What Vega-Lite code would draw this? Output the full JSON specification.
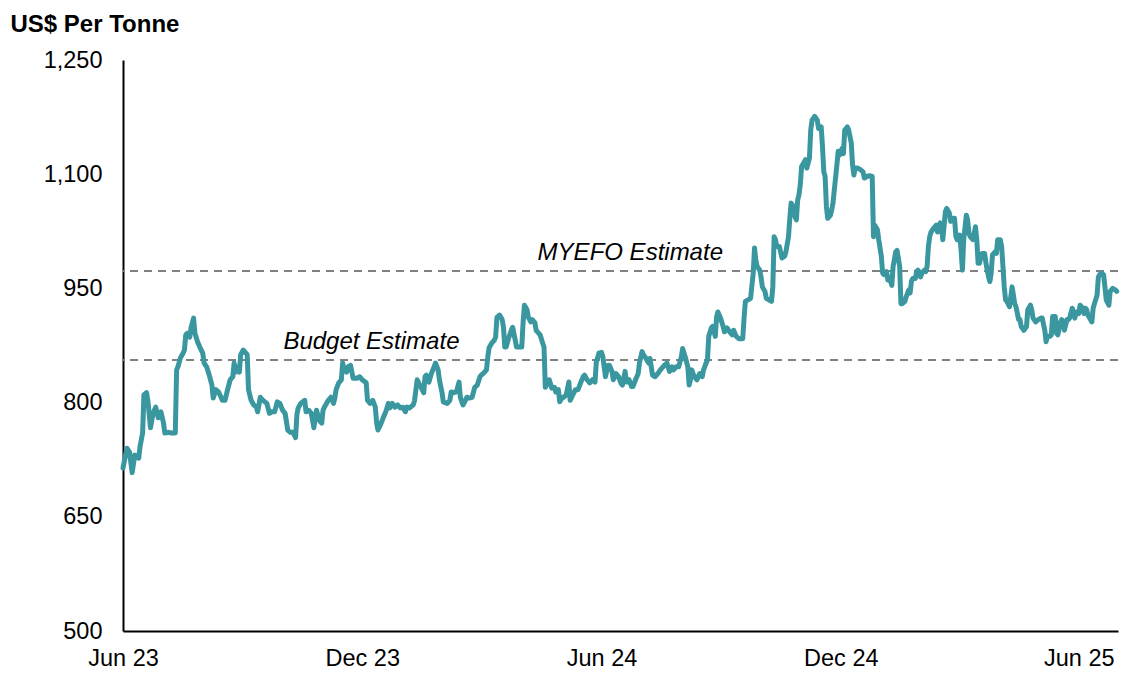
{
  "$schema": "https://vega.github.io/schema/vega-lite/v6.json",
  "width": 995,
  "height": 571,
  "autosize": "none",
  "padding": {"left": 123, "top": 60, "right": 4, "bottom": 42},
  "background": "white",
  "config": {"view": {"stroke": null}, "font": "Liberation Sans"},
  "datasets": {
    "estimates": [
      {"name": "Budget Estimate", "value": 856, "labelDate": "2023-12-08"},
      {"name": "MYEFO Estimate", "value": 973, "labelDate": "2024-06-23"}
    ],
    "prices": [
      {"date":"2023-06-01","price":714},{"date":"2023-06-04","price":740},{"date":"2023-06-06","price":735},{"date":"2023-06-08","price":708},{"date":"2023-06-10","price":731},{"date":"2023-06-13","price":727},{"date":"2023-06-14","price":742},{"date":"2023-06-16","price":760},{"date":"2023-06-17","price":810},{"date":"2023-06-19","price":813},{"date":"2023-06-20","price":803},{"date":"2023-06-22","price":767},{"date":"2023-06-24","price":786},{"date":"2023-06-26","price":794},{"date":"2023-06-28","price":780},{"date":"2023-06-30","price":788},{"date":"2023-07-02","price":773},{"date":"2023-07-03","price":760},{"date":"2023-07-06","price":761},{"date":"2023-07-08","price":760},{"date":"2023-07-11","price":760},{"date":"2023-07-12","price":843},{"date":"2023-07-13","price":847},{"date":"2023-07-15","price":859},{"date":"2023-07-17","price":865},{"date":"2023-07-18","price":869},{"date":"2023-07-19","price":889},{"date":"2023-07-20","price":891},{"date":"2023-07-22","price":886},{"date":"2023-07-23","price":898},{"date":"2023-07-25","price":911},{"date":"2023-07-26","price":891},{"date":"2023-07-28","price":880},{"date":"2023-07-30","price":872},{"date":"2023-08-01","price":865},{"date":"2023-08-02","price":852},{"date":"2023-08-04","price":847},{"date":"2023-08-06","price":836},{"date":"2023-08-08","price":823},{"date":"2023-08-09","price":806},{"date":"2023-08-11","price":817},{"date":"2023-08-13","price":814},{"date":"2023-08-15","price":807},{"date":"2023-08-16","price":803},{"date":"2023-08-18","price":803},{"date":"2023-08-20","price":817},{"date":"2023-08-22","price":830},{"date":"2023-08-24","price":834},{"date":"2023-08-25","price":852},{"date":"2023-08-26","price":840},{"date":"2023-08-28","price":847},{"date":"2023-08-29","price":840},{"date":"2023-08-30","price":863},{"date":"2023-09-01","price":869},{"date":"2023-09-04","price":863},{"date":"2023-09-05","price":817},{"date":"2023-09-07","price":803},{"date":"2023-09-09","price":797},{"date":"2023-09-11","price":794},{"date":"2023-09-12","price":788},{"date":"2023-09-14","price":807},{"date":"2023-09-16","price":803},{"date":"2023-09-19","price":799},{"date":"2023-09-21","price":786},{"date":"2023-09-23","price":788},{"date":"2023-09-25","price":788},{"date":"2023-09-27","price":801},{"date":"2023-09-29","price":799},{"date":"2023-10-01","price":790},{"date":"2023-10-03","price":786},{"date":"2023-10-05","price":764},{"date":"2023-10-07","price":761},{"date":"2023-10-09","price":761},{"date":"2023-10-11","price":754},{"date":"2023-10-12","price":784},{"date":"2023-10-13","price":793},{"date":"2023-10-15","price":799},{"date":"2023-10-18","price":803},{"date":"2023-10-19","price":788},{"date":"2023-10-21","price":790},{"date":"2023-10-23","price":786},{"date":"2023-10-25","price":767},{"date":"2023-10-26","price":780},{"date":"2023-10-27","price":790},{"date":"2023-10-29","price":777},{"date":"2023-10-31","price":773},{"date":"2023-11-01","price":790},{"date":"2023-11-02","price":794},{"date":"2023-11-05","price":803},{"date":"2023-11-07","price":807},{"date":"2023-11-09","price":799},{"date":"2023-11-10","price":806},{"date":"2023-11-11","price":817},{"date":"2023-11-13","price":826},{"date":"2023-11-15","price":830},{"date":"2023-11-16","price":852},{"date":"2023-11-17","price":843},{"date":"2023-11-19","price":840},{"date":"2023-11-20","price":847},{"date":"2023-11-22","price":849},{"date":"2023-11-24","price":832},{"date":"2023-11-27","price":832},{"date":"2023-11-29","price":834},{"date":"2023-12-01","price":830},
      {"date":"2023-12-04","price":826},{"date":"2023-12-05","price":803},{"date":"2023-12-07","price":799},{"date":"2023-12-09","price":803},{"date":"2023-12-11","price":794},{"date":"2023-12-12","price":773},{"date":"2023-12-13","price":764},{"date":"2023-12-15","price":771},{"date":"2023-12-17","price":780},{"date":"2023-12-19","price":788},{"date":"2023-12-21","price":799},{"date":"2023-12-22","price":793},{"date":"2023-12-24","price":799},{"date":"2023-12-26","price":794},{"date":"2023-12-28","price":797},{"date":"2023-12-30","price":793},{"date":"2024-01-01","price":794},{"date":"2024-01-03","price":788},{"date":"2024-01-04","price":794},{"date":"2024-01-06","price":793},{"date":"2024-01-09","price":797},{"date":"2024-01-10","price":803},{"date":"2024-01-12","price":830},{"date":"2024-01-14","price":823},{"date":"2024-01-15","price":820},{"date":"2024-01-17","price":813},{"date":"2024-01-18","price":834},{"date":"2024-01-19","price":836},{"date":"2024-01-21","price":827},{"date":"2024-01-23","price":839},{"date":"2024-01-25","price":847},{"date":"2024-01-26","price":852},{"date":"2024-01-28","price":843},{"date":"2024-01-29","price":830},{"date":"2024-01-31","price":813},{"date":"2024-02-01","price":801},{"date":"2024-02-04","price":799},{"date":"2024-02-06","price":803},{"date":"2024-02-07","price":814},{"date":"2024-02-09","price":813},{"date":"2024-02-11","price":814},{"date":"2024-02-13","price":827},{"date":"2024-02-14","price":807},{"date":"2024-02-16","price":797},{"date":"2024-02-18","price":803},{"date":"2024-02-19","price":807},{"date":"2024-02-21","price":806},{"date":"2024-02-23","price":807},{"date":"2024-02-25","price":820},{"date":"2024-02-27","price":823},{"date":"2024-02-29","price":834},{"date":"2024-03-01","price":836},{"date":"2024-03-03","price":839},{"date":"2024-03-05","price":843},{"date":"2024-03-06","price":860},{"date":"2024-03-07","price":872},{"date":"2024-03-09","price":878},{"date":"2024-03-11","price":882},{"date":"2024-03-12","price":886},{"date":"2024-03-13","price":912},{"date":"2024-03-15","price":915},{"date":"2024-03-17","price":909},{"date":"2024-03-18","price":899},{"date":"2024-03-19","price":873},{"date":"2024-03-20","price":873},{"date":"2024-03-22","price":885},{"date":"2024-03-24","price":895},{"date":"2024-03-25","price":899},{"date":"2024-03-27","price":882},{"date":"2024-03-28","price":873},{"date":"2024-03-30","price":873},{"date":"2024-04-01","price":873},{"date":"2024-04-02","price":905},{"date":"2024-04-03","price":928},{"date":"2024-04-05","price":922},{"date":"2024-04-06","price":912},{"date":"2024-04-08","price":906},{"date":"2024-04-09","price":909},{"date":"2024-04-11","price":905},{"date":"2024-04-12","price":895},{"date":"2024-04-15","price":889},{"date":"2024-04-17","price":878},{"date":"2024-04-18","price":873},{"date":"2024-04-19","price":820},{"date":"2024-04-21","price":827},{"date":"2024-04-22","price":830},{"date":"2024-04-24","price":819},{"date":"2024-04-26","price":820},{"date":"2024-04-27","price":814},{"date":"2024-04-29","price":817},{"date":"2024-04-30","price":801},{"date":"2024-05-02","price":807},{"date":"2024-05-03","price":807},{"date":"2024-05-05","price":810},{"date":"2024-05-07","price":827},{"date":"2024-05-08","price":803},{"date":"2024-05-10","price":810},{"date":"2024-05-12","price":817},{"date":"2024-05-14","price":817},{"date":"2024-05-16","price":826},{"date":"2024-05-18","price":834},{"date":"2024-05-19","price":836},{"date":"2024-05-21","price":830},{"date":"2024-05-23","price":826},{"date":"2024-05-25","price":830},{"date":"2024-05-27","price":827},{"date":"2024-05-28","price":853},{"date":"2024-05-30","price":865},{"date":"2024-06-01","price":866},{"date":"2024-06-02","price":860},{"date":"2024-06-04","price":834},{"date":"2024-06-06","price":849},{"date":"2024-06-07","price":849},
      {"date":"2024-06-09","price":841},{"date":"2024-06-10","price":830},{"date":"2024-06-12","price":838},{"date":"2024-06-14","price":834},{"date":"2024-06-16","price":825},{"date":"2024-06-17","price":823},{"date":"2024-06-19","price":841},{"date":"2024-06-20","price":827},{"date":"2024-06-22","price":830},{"date":"2024-06-24","price":821},{"date":"2024-06-25","price":821},{"date":"2024-06-27","price":830},{"date":"2024-06-29","price":838},{"date":"2024-06-30","price":852},{"date":"2024-07-02","price":867},{"date":"2024-07-03","price":863},{"date":"2024-07-05","price":858},{"date":"2024-07-07","price":852},{"date":"2024-07-08","price":858},{"date":"2024-07-10","price":836},{"date":"2024-07-12","price":834},{"date":"2024-07-14","price":838},{"date":"2024-07-16","price":843},{"date":"2024-07-18","price":847},{"date":"2024-07-19","price":849},{"date":"2024-07-21","price":852},{"date":"2024-07-23","price":841},{"date":"2024-07-25","price":847},{"date":"2024-07-26","price":843},{"date":"2024-07-28","price":847},{"date":"2024-07-30","price":847},{"date":"2024-08-01","price":860},{"date":"2024-08-02","price":871},{"date":"2024-08-04","price":860},{"date":"2024-08-06","price":847},{"date":"2024-08-07","price":823},{"date":"2024-08-08","price":830},{"date":"2024-08-09","price":843},{"date":"2024-08-10","price":838},{"date":"2024-08-11","price":834},{"date":"2024-08-13","price":830},{"date":"2024-08-15","price":838},{"date":"2024-08-17","price":834},{"date":"2024-08-18","price":843},{"date":"2024-08-20","price":852},{"date":"2024-08-21","price":856},{"date":"2024-08-22","price":887},{"date":"2024-08-24","price":898},{"date":"2024-08-25","price":900},{"date":"2024-08-27","price":887},{"date":"2024-08-28","price":913},{"date":"2024-08-29","price":919},{"date":"2024-08-31","price":911},{"date":"2024-09-02","price":900},{"date":"2024-09-03","price":893},{"date":"2024-09-05","price":898},{"date":"2024-09-07","price":893},{"date":"2024-09-09","price":889},{"date":"2024-09-10","price":895},{"date":"2024-09-12","price":887},{"date":"2024-09-14","price":884},{"date":"2024-09-15","price":884},{"date":"2024-09-17","price":884},{"date":"2024-09-18","price":911},{"date":"2024-09-19","price":933},{"date":"2024-09-21","price":935},{"date":"2024-09-23","price":937},{"date":"2024-09-25","price":970},{"date":"2024-09-26","price":1003},{"date":"2024-09-27","price":987},{"date":"2024-09-28","price":979},{"date":"2024-09-30","price":974},{"date":"2024-10-01","price":965},{"date":"2024-10-02","price":952},{"date":"2024-10-04","price":946},{"date":"2024-10-05","price":937},{"date":"2024-10-07","price":935},{"date":"2024-10-09","price":933},{"date":"2024-10-10","price":952},{"date":"2024-10-11","price":1018},{"date":"2024-10-12","price":1014},{"date":"2024-10-13","price":1005},{"date":"2024-10-15","price":1005},{"date":"2024-10-17","price":990},{"date":"2024-10-19","price":992},{"date":"2024-10-20","price":998},{"date":"2024-10-22","price":1018},{"date":"2024-10-23","price":1042},{"date":"2024-10-24","price":1062},{"date":"2024-10-26","price":1057},{"date":"2024-10-27","price":1044},{"date":"2024-10-28","price":1040},{"date":"2024-10-29","price":1066},{"date":"2024-10-30","price":1073},{"date":"2024-10-31","price":1086},{"date":"2024-11-01","price":1110},{"date":"2024-11-03","price":1116},{"date":"2024-11-04","price":1119},{"date":"2024-11-05","price":1108},{"date":"2024-11-07","price":1121},{"date":"2024-11-08","price":1158},{"date":"2024-11-09","price":1171},{"date":"2024-11-11","price":1176},{"date":"2024-11-13","price":1171},{"date":"2024-11-14","price":1160},{"date":"2024-11-15","price":1160},{"date":"2024-11-16","price":1162},{"date":"2024-11-17","price":1136},{"date":"2024-11-18","price":1103},{"date":"2024-11-19","price":1097},{"date":"2024-11-20","price":1057},{"date":"2024-11-21","price":1042},{"date":"2024-11-23","price":1046},{"date":"2024-11-24","price":1053},{"date":"2024-11-25","price":1062},{"date":"2024-11-26","price":1079},{"date":"2024-11-28","price":1112},{"date":"2024-11-29","price":1130},{"date":"2024-11-30","price":1125},{"date":"2024-12-02","price":1134},{"date":"2024-12-03","price":1127},{"date":"2024-12-04","price":1158},{"date":"2024-12-06","price":1162},{"date":"2024-12-07","price":1158},{"date":"2024-12-09","price":1141},{"date":"2024-12-10","price":1112},{"date":"2024-12-11","price":1099},{"date":"2024-12-12","price":1108},{"date":"2024-12-14","price":1108},{"date":"2024-12-16","price":1106},
      {"date":"2024-12-18","price":1103},{"date":"2024-12-19","price":1095},{"date":"2024-12-21","price":1097},{"date":"2024-12-23","price":1098},{"date":"2024-12-25","price":1097},{"date":"2024-12-26","price":1018},{"date":"2024-12-27","price":1033},{"date":"2024-12-29","price":1027},{"date":"2024-12-30","price":1014},{"date":"2025-01-01","price":992},{"date":"2025-01-02","price":970},{"date":"2025-01-03","price":968},{"date":"2025-01-05","price":972},{"date":"2025-01-06","price":961},{"date":"2025-01-07","price":965},{"date":"2025-01-09","price":954},{"date":"2025-01-10","price":979},{"date":"2025-01-12","price":998},{"date":"2025-01-13","price":1000},{"date":"2025-01-15","price":979},{"date":"2025-01-16","price":930},{"date":"2025-01-17","price":930},{"date":"2025-01-19","price":933},{"date":"2025-01-20","price":939},{"date":"2025-01-22","price":948},{"date":"2025-01-23","price":944},{"date":"2025-01-24","price":959},{"date":"2025-01-25","price":963},{"date":"2025-01-27","price":963},{"date":"2025-01-28","price":972},{"date":"2025-01-29","price":974},{"date":"2025-01-31","price":965},{"date":"2025-02-01","price":970},{"date":"2025-02-03","price":974},{"date":"2025-02-04","price":972},{"date":"2025-02-05","price":979},{"date":"2025-02-06","price":1005},{"date":"2025-02-07","price":1018},{"date":"2025-02-08","price":1024},{"date":"2025-02-10","price":1029},{"date":"2025-02-12","price":1033},{"date":"2025-02-13","price":1024},{"date":"2025-02-15","price":1036},{"date":"2025-02-16","price":1033},{"date":"2025-02-17","price":1014},{"date":"2025-02-19","price":1051},{"date":"2025-02-20","price":1055},{"date":"2025-02-22","price":1049},{"date":"2025-02-23","price":1038},{"date":"2025-02-25","price":1042},{"date":"2025-02-26","price":1042},{"date":"2025-02-27","price":1018},{"date":"2025-02-28","price":1014},{"date":"2025-03-02","price":1020},{"date":"2025-03-03","price":1000},{"date":"2025-03-04","price":974},{"date":"2025-03-05","price":1014},{"date":"2025-03-07","price":1046},{"date":"2025-03-08","price":1040},{"date":"2025-03-09","price":1022},{"date":"2025-03-10","price":1018},{"date":"2025-03-12","price":1014},{"date":"2025-03-14","price":1031},{"date":"2025-03-15","price":1014},{"date":"2025-03-16","price":983},{"date":"2025-03-17","price":983},{"date":"2025-03-19","price":996},{"date":"2025-03-21","price":996},{"date":"2025-03-22","price":983},{"date":"2025-03-24","price":965},{"date":"2025-03-25","price":959},{"date":"2025-03-26","price":970},{"date":"2025-03-27","price":994},{"date":"2025-03-29","price":998},{"date":"2025-03-30","price":996},{"date":"2025-03-31","price":1014},{"date":"2025-04-02","price":1014},{"date":"2025-04-03","price":1005},{"date":"2025-04-04","price":979},{"date":"2025-04-05","price":952},{"date":"2025-04-06","price":935},{"date":"2025-04-07","price":933},{"date":"2025-04-09","price":926},{"date":"2025-04-11","price":952},{"date":"2025-04-12","price":941},{"date":"2025-04-13","price":930},{"date":"2025-04-14","price":926},{"date":"2025-04-16","price":909},{"date":"2025-04-17","price":909},{"date":"2025-04-18","price":900},{"date":"2025-04-20","price":895},{"date":"2025-04-22","price":900},{"date":"2025-04-23","price":922},{"date":"2025-04-25","price":928},{"date":"2025-04-26","price":922},{"date":"2025-04-27","price":911},{"date":"2025-04-29","price":906},{"date":"2025-05-01","price":909},{"date":"2025-05-03","price":911},{"date":"2025-05-04","price":911},{"date":"2025-05-06","price":895},{"date":"2025-05-07","price":880},{"date":"2025-05-08","price":887},{"date":"2025-05-10","price":887},{"date":"2025-05-11","price":889},{"date":"2025-05-12","price":913},{"date":"2025-05-14","price":913},{"date":"2025-05-15","price":891},{"date":"2025-05-16","price":889},{"date":"2025-05-18","price":906},{"date":"2025-05-19","price":909},{"date":"2025-05-20","price":906},{"date":"2025-05-21","price":895},{"date":"2025-05-23","price":909},{"date":"2025-05-24","price":909},{"date":"2025-05-25","price":911},{"date":"2025-05-27","price":924},{"date":"2025-05-28","price":917},{"date":"2025-05-29","price":911},{"date":"2025-05-30","price":919},{"date":"2025-06-01","price":917},{"date":"2025-06-02","price":928},{"date":"2025-06-04","price":924},{"date":"2025-06-05","price":917},{"date":"2025-06-06","price":924},{"date":"2025-06-07","price":922},{"date":"2025-06-08","price":915},{"date":"2025-06-10","price":909},{"date":"2025-06-11","price":906},{"date":"2025-06-12","price":924},{"date":"2025-06-13","price":930},{"date":"2025-06-15","price":941},{"date":"2025-06-16","price":965},{"date":"2025-06-17","price":968},{"date":"2025-06-18","price":970},{"date":"2025-06-20","price":968},{"date":"2025-06-21","price":952},{"date":"2025-06-22","price":935},{"date":"2025-06-24","price":928},{"date":"2025-06-25","price":946},{"date":"2025-06-27","price":950},{"date":"2025-06-29","price":948},{"date":"2025-06-30","price":946}
    ]
  },
  "layer": [
    {
      "data": {"name": "estimates"},
      "mark": {"type": "rule", "color": "#808080", "strokeWidth": 2, "strokeDash": [8, 6]},
      "encoding": {
        "y": {"field": "value", "type": "quantitative"}
      }
    },
    {
      "data": {"name": "prices"},
      "mark": {"type": "line", "color": "#3a979f", "strokeWidth": 5, "strokeJoin": "round", "strokeCap": "round"},
      "encoding": {
        "x": {
          "field": "date",
          "type": "temporal",
          "scale": {"type": "utc", "domain": [{"year": 2023, "month": 6, "date": 1, "utc": true}, {"year": 2025, "month": 7, "date": 1, "utc": true}]},
          "axis": {
            "title": null,
            "values": [
              {"year": 2023, "month": 6, "date": 1, "utc": true},
              {"year": 2023, "month": 12, "date": 1, "utc": true},
              {"year": 2024, "month": 6, "date": 1, "utc": true},
              {"year": 2024, "month": 12, "date": 1, "utc": true},
              {"year": 2025, "month": 6, "date": 1, "utc": true}
            ],
            "format": "%b %y",
            "labelFontSize": 23.5,
            "labelColor": "#000000",
            "labelFont": "Liberation Sans",
            "ticks": false,
            "tickSize": 0,
            "labelPadding": 15,
            "labelOverlap": false,
            "labelFlush": false,
            "domainColor": "#000000",
            "domainWidth": 2,
            "grid": false
          }
        },
        "y": {
          "field": "price",
          "type": "quantitative",
          "scale": {"domain": [500, 1250], "nice": false, "zero": false},
          "axis": {
            "title": "US$ Per Tonne",
            "titleAngle": 0,
            "titleAlign": "left",
            "titleBaseline": "alphabetic",
            "titleX": -113,
            "titleY": -29,
            "titleFontSize": 24,
            "titleFontWeight": "bold",
            "titleFont": "Liberation Sans",
            "titleColor": "#000000",
            "values": [500, 650, 800, 950, 1100, 1250],
            "format": ",d",
            "labelFontSize": 23.5,
            "labelFont": "Liberation Sans",
            "labelColor": "#000000",
            "ticks": false,
            "tickSize": 0,
            "labelPadding": 21,
            "domainColor": "#000000",
            "domainWidth": 2,
            "grid": false
          }
        }
      }
    },
    {
      "data": {"name": "estimates"},
      "mark": {"type": "text", "fontStyle": "italic", "fontSize": 24, "font": "Liberation Sans", "color": "#000000", "align": "center", "baseline": "alphabetic", "dy": -11},
      "encoding": {
        "x": {"field": "labelDate", "type": "temporal"},
        "y": {"field": "value", "type": "quantitative"},
        "text": {"field": "name"}
      }
    }
  ]
}
